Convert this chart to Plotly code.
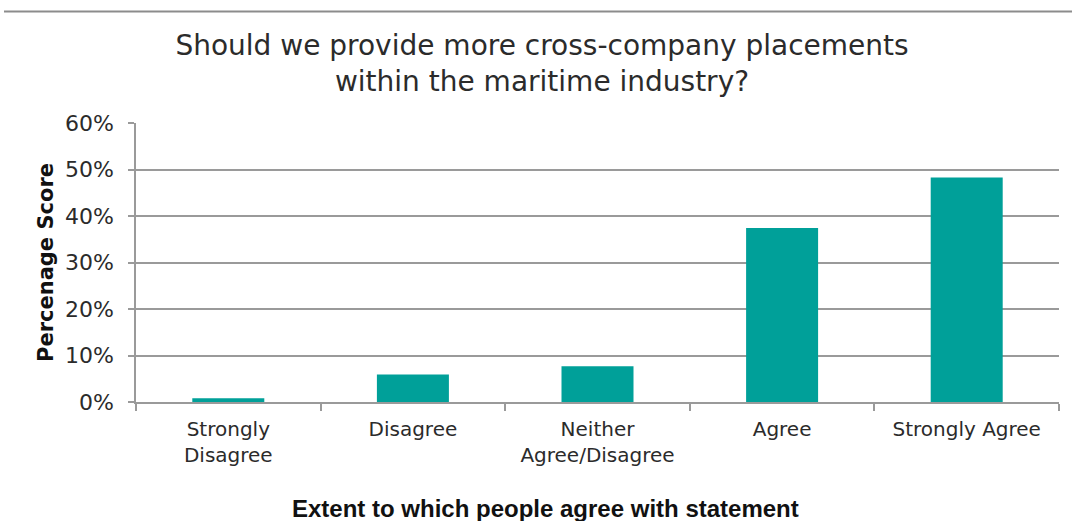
import plotly.graph_objects as go

categories = ["Strongly<br>Disagree", "Disagree", "Neither<br>Agree/Disagree", "Agree", "Strongly Agree"]
scores = [0.8, 5.9, 7.7, 37.4, 48.3]
y_ticks = [0, 10, 20, 30, 40, 50, 60]
y_tick_labels = [f"{v}%" for v in y_ticks]

BAR = "#00A099"
GRID = "#9a9a9a"
TEXT = "#2b2b2b"
FONT = "DejaVu Sans"

fig = go.Figure(
    go.Bar(
        x=categories,
        y=scores,
        marker=dict(color=BAR, line=dict(width=0)),
        hoverinfo="skip",
    )
)

W, H = 1072, 521
L, R, T, B = 136, 13, 123, 119
pw, ph = W - L - R, H - T - B

fig.update_layout(
    width=W,
    height=H,
    margin=dict(l=L, r=R, t=T, b=B, autoexpand=False),
    paper_bgcolor="white",
    plot_bgcolor="white",
    bargap=0.61,
    showlegend=False,
    title=dict(
        text="Should we provide more cross-company placements<br>within the maritime industry?",
        x=542 / W,
        xanchor="center",
        y=1 - 55 / H,
        yanchor="top",
        font=dict(family=FONT, size=28, color=TEXT),
        automargin=False,
    ),
    xaxis=dict(
        type="category",
        automargin=False,
        showgrid=False,
        showline=True,
        linecolor=GRID,
        linewidth=1.5,
        ticks="outside",
        tickson="boundaries",
        ticklen=7,
        tickcolor=GRID,
        tickwidth=1.5,
        ticklabelstandoff=8,
        tickfont=dict(family=FONT, size=20, color=TEXT),
    ),
    yaxis=dict(
        range=[0, 60],
        automargin=False,
        tickvals=y_ticks,
        ticktext=y_tick_labels,
        showgrid=True,
        gridcolor=GRID,
        gridwidth=1.5,
        showline=True,
        linecolor=GRID,
        linewidth=1.5,
        ticks="outside",
        ticklen=6,
        tickcolor=GRID,
        tickwidth=1.5,
        ticklabelstandoff=10,
        tickfont=dict(family=FONT, size=22, color=TEXT),
        zeroline=False,
        title=dict(
            text="<b>Percenage Score</b>",
            font=dict(family=FONT, size=21, color="#111"),
            standoff=6,
        ),
    ),
    annotations=[
        dict(
            text="<b>Extent to which people agree with statement</b>",
            xref="paper",
            yref="paper",
            x=(545 - L) / pw,
            y=(H - B - 508) / ph,
            xanchor="center",
            yanchor="middle",
            showarrow=False,
            font=dict(family="Liberation Sans", size=24, color="#111"),
        )
    ],
    shapes=[
        dict(
            type="line",
            xref="paper",
            yref="paper",
            x0=(4 - L) / pw,
            x1=(W - L) / pw,
            y0=(H - B - 11.5) / ph,
            y1=(H - B - 11.5) / ph,
            line=dict(color="#8c8c8c", width=2),
        )
    ],
)

fig.write_html("out.html")
